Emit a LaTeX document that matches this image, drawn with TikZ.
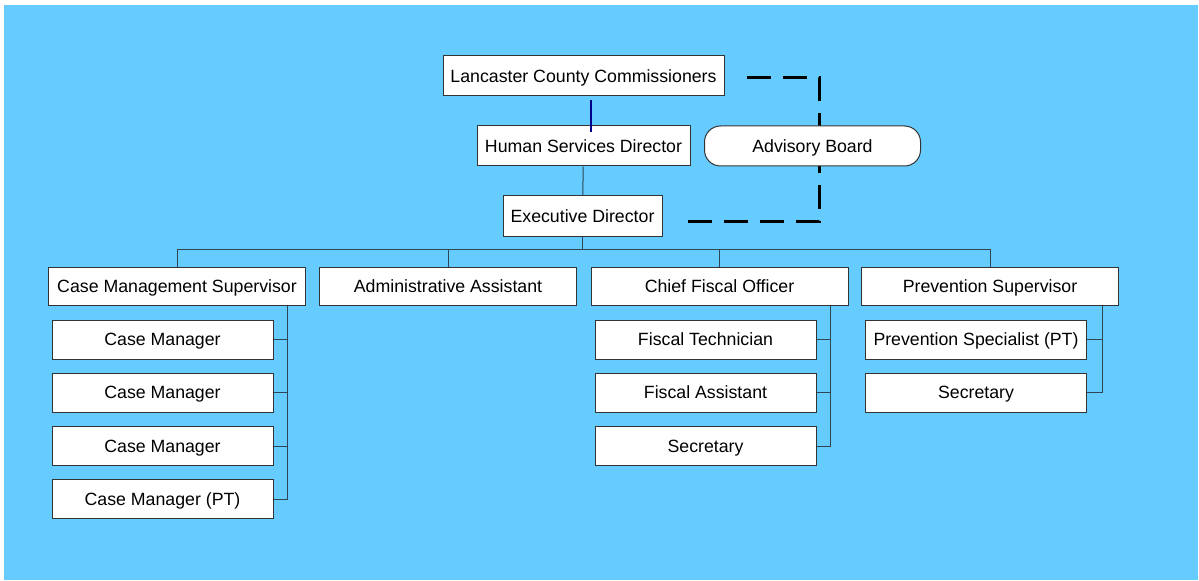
\documentclass[tikz,border=0pt]{standalone}
\usepackage{fontspec}
\setmainfont{Liberation Sans}
\usetikzlibrary{calc}
\definecolor{skyback}{RGB}{102,204,255}
\definecolor{linkline}{RGB}{45,70,85}
\definecolor{topline}{RGB}{0,0,140}

\begin{document}
\begin{tikzpicture}
[x=0.75pt, y=-0.75pt,
every node/.style={draw=black!80, fill=white, line width=0.75pt, align=center,
  font=\fontsize{13.3}{16}\selectfont, inner sep=0pt, text height=9.5pt, text depth=0.3pt},
head/.style={minimum height=30pt},
unit/.style={minimum width=192.75pt, minimum height=28.5pt},
staff/.style={minimum width=165.75pt, minimum height=29.25pt},
link/.style={draw=linkline, line width=0.75pt},
dashlink/.style={line width=2.25pt, dash pattern=on 18pt off 9pt},
]
\useasboundingbox (0,0) rectangle (1199,581);
\fill[skyback] (4,5) rectangle (1198,580);

% top of the chart
\node[head, minimum width=210.75pt] (lcc) at (583.5,76) {Lancaster County Commissioners};
\node[head, minimum width=159.75pt] (hsd) at (583.5,146) {Human Services Director};
\node[head, minimum width=119.25pt] (ed) at (582.5,216) {Executive Director};
\draw[topline, line width=1pt] ($(lcc.south)+(7.5,4)$) -- ($(hsd.north)+(7.5,6.5)$);
\draw[link] (hsd) -- (ed);

% advisory board sits on the dashed link
\draw[dashlink] ($(lcc.east)+(22,1.3)$) -| (819,221.7) -- ($(ed.east)+(14,5.7)$);
\node[head, minimum width=162pt, rounded corners=12pt] (adv) at (812.5,146) {Advisory Board};

% second level
\node[unit] (cms) at (177,286.5) {Case Management Supervisor};
\node[unit] (aa) at (448,286.5) {Administrative Assistant};
\node[unit] (cfo) at (719.5,286.5) {Chief Fiscal Officer};
\node[unit] (ps) at (990,286.5) {Prevention Supervisor};
\coordinate (bus) at (582.5,249.5);
\draw[link] (ed) -- (bus);
\draw[link] (cms.north) |- (bus) -| (ps.north);
\draw[link] (aa.north) -- (aa.north |- bus);
\draw[link] (cfo.north) -- (cfo.north |- bus);

% case management
\node[staff] (cm1) at (162.5,339.5) {Case Manager};
\node[staff] (cm2) at (162.5,392.5) {Case Manager};
\node[staff] (cm3) at (162.5,446) {Case Manager};
\node[staff] (cm4) at (162.5,499) {Case Manager (PT)};
\coordinate (cmspine) at (287,0);
\draw[link] (cms.south -| cmspine) |- (cm4.east);
\foreach \n in {1,2,3}
  \draw[link] (cm\n.east) -- (cm\n.east -| cmspine);

% fiscal
\node[staff] (ft) at (705.5,339.5) {Fiscal Technician};
\node[staff] (fa) at (705.5,392.5) {Fiscal Assistant};
\node[staff] (fs) at (705.5,446) {Secretary};
\coordinate (cfospine) at (830,0);
\draw[link] (cfo.south -| cfospine) |- (fs.east);
\foreach \n in {ft,fa}
  \draw[link] (\n.east) -- (\n.east -| cfospine);

% prevention
\node[staff] (pst) at (976,339.5) {Prevention Specialist (PT)};
\node[staff] (pse) at (976,392.5) {Secretary};
\coordinate (psspine) at (1102,0);
\draw[link] (ps.south -| psspine) |- (pse.east);
\draw[link] (pst.east) -- (pst.east -| psspine);
\end{tikzpicture}
\end{document}
